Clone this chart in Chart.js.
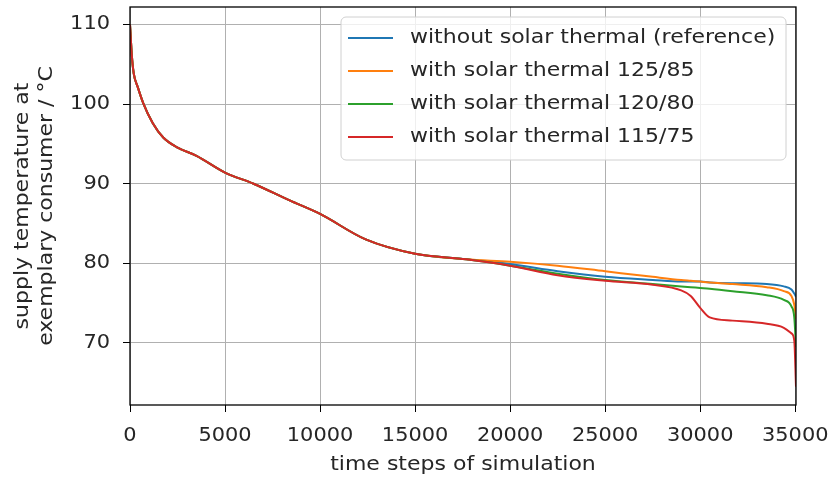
<!DOCTYPE html>
<html>
<head>
<meta charset="utf-8">
<script src="https://cdn.jsdelivr.net/npm/chart.js@4"></script>
<style>
  html, body { margin: 0; padding: 0; background: #ffffff; }
  #wrap { width: 830px; height: 477px; position: relative; }
</style>
</head>
<body>
<div id="wrap"><canvas id="c" width="830" height="477"></canvas></div>
<script>
// ---- data ----
const seriesLabels = [
  'without solar thermal (reference)',
  'with solar thermal 125/85',
  'with solar thermal 120/80',
  'with solar thermal 115/75'
];
const seriesColors = ['#1f77b4', '#ff7f0e', '#2ca02c', '#d62728'];

const timeSteps = [0, 100, 200, 400, 700, 1200, 1750, 2450, 3500, 5000, 6500, 8400, 10000, 12400, 15000, 17700,
                   20000, 22500, 25000, 27500, 29000, 29500, 30000, 30500, 31700, 33500, 34400, 34800, 34950, 35040];

const commonStart = [110, 106.0, 103.8, 102.2, 100.1, 97.6, 95.8, 94.6, 93.5, 91.4, 90.0, 87.9, 86.2, 83.0, 81.2, 80.5];

const tailReference = [79.9, 79.0, 78.3, 77.9, 77.7, 77.7, 77.7, 77.6, 77.5, 77.4, 77.1, 76.7, 76.2, 75.8];
const tail125_85    = [80.2, 79.7, 79.0, 78.3, 77.9, 77.8, 77.7, 77.6, 77.4, 77.0, 76.5, 75.9, 74.8, 73.0];
const tail120_80    = [79.7, 78.7, 77.9, 77.4, 77.1, 77.0, 76.9, 76.8, 76.5, 76.0, 75.4, 74.6, 73.2, 69.5];
const tail115_75    = [79.7, 78.5, 77.8, 77.3, 76.6, 75.9, 74.4, 73.2, 72.8, 72.4, 71.9, 71.2, 70.3, 64.5];

const xTicks = [0, 5000, 10000, 15000, 20000, 25000, 30000, 35000];
const yTicks = [70, 80, 90, 100, 110];

const xLabel = 'time steps of simulation';
const yLabel = ['supply temperature at', 'exemplary consumer / °C'];

// ---- build datasets ----
const tails = [tailReference, tail125_85, tail120_80, tail115_75];
const datasets = tails.map((tail, i) => {
  const ys = commonStart.concat(tail);
  return {
    label: seriesLabels[i],
    data: timeSteps.map((x, k) => ({ x: x, y: ys[k] })),
    borderColor: seriesColors[i],
    backgroundColor: seriesColors[i],
    borderWidth: 2,
    pointRadius: 0,
    fill: false,
    order: tails.length - 1 - i,
    cubicInterpolationMode: 'monotone'
  };
});

const FONT = "'DejaVu Sans', sans-serif";
const TEXT_STRETCH = 1.1;

// text in the reference is slightly wider than plain DejaVu Sans: stretch along the text direction
const canvas = document.getElementById('c');
const ctx0 = canvas.getContext('2d');
const origFill = ctx0.fillText.bind(ctx0);
const origMeasure = ctx0.measureText.bind(ctx0);
ctx0.fillText = function (text, x, y, maxWidth) {
  this.save();
  this.translate(x, y);
  this.scale(TEXT_STRETCH, 1);
  origFill(text, 0, 0);
  this.restore();
};
ctx0.measureText = function (text) {
  const m = origMeasure(text);
  return {
    width: m.width * TEXT_STRETCH,
    actualBoundingBoxAscent: m.actualBoundingBoxAscent,
    actualBoundingBoxDescent: m.actualBoundingBoxDescent,
    actualBoundingBoxLeft: m.actualBoundingBoxLeft * TEXT_STRETCH,
    actualBoundingBoxRight: m.actualBoundingBoxRight * TEXT_STRETCH
  };
};

const framePlugin = {
  id: 'frame',
  afterDatasetsDraw(chart) {
    const ctx = chart.ctx;
    const a = chart.chartArea;
    // legend box
    const bx = 341, by = 17, bw = 445, bh = 143, r = 5;
    ctx.save();
    ctx.beginPath();
    ctx.moveTo(bx + r, by);
    ctx.arcTo(bx + bw, by, bx + bw, by + bh, r);
    ctx.arcTo(bx + bw, by + bh, bx, by + bh, r);
    ctx.arcTo(bx, by + bh, bx, by, r);
    ctx.arcTo(bx, by, bx + bw, by, r);
    ctx.closePath();
    ctx.fillStyle = 'rgba(255,255,255,0.8)';
    ctx.fill();
    ctx.strokeStyle = '#d0d0d0';
    ctx.lineWidth = 1;
    ctx.stroke();
    ctx.font = '20px ' + FONT;
    ctx.textBaseline = 'middle';
    ctx.textAlign = 'left';
    chart.data.datasets.forEach((ds, i) => {
      const yy = 38 + i * 33;
      ctx.strokeStyle = ds.borderColor;
      ctx.lineWidth = 2;
      ctx.beginPath();
      ctx.moveTo(348, yy);
      ctx.lineTo(393, yy);
      ctx.stroke();
      ctx.fillStyle = '#262626';
      ctx.fillText(ds.label, 410, yy);
    });
    // spines
    ctx.strokeStyle = '#000000';
    ctx.lineWidth = 1.3;
    ctx.strokeRect(a.left, a.top, a.right - a.left, a.bottom - a.top);
    ctx.restore();
  }
};

new Chart(canvas, {
  type: 'line',
  data: { datasets: datasets },
  options: {
    responsive: false,
    animation: false,
    layout: { padding: { left: 0, right: 34, top: 7, bottom: 0 } },
    plugins: { legend: { display: false }, tooltip: { enabled: false } },
    scales: {
      x: {
        type: 'linear',
        min: 0,
        max: 35040,
        afterBuildTicks(s) { s.ticks = xTicks.map(v => ({ value: v })); },
        afterFit(s) { s.height = 72; s.paddingLeft = 0; s.paddingRight = 0; },
        grid: { color: '#b0b0b0', lineWidth: 1, tickColor: '#000000', tickLength: 7, drawTicks: true },
        border: { display: false },
        ticks: { color: '#262626', font: { family: FONT, size: 19 }, padding: 13, maxRotation: 0, autoSkip: false,
                 callback: v => String(v) },
        title: { display: true, text: xLabel, color: '#262626', font: { family: FONT, size: 20 }, padding: { top: 0, bottom: 0 } }
      },
      y: {
        type: 'linear',
        min: 62.2,
        max: 112.2,
        afterBuildTicks(s) { s.ticks = yTicks.map(v => ({ value: v })); },
        afterFit(s) { s.width = 130; s.paddingTop = 0; s.paddingBottom = 0; },
        grid: { color: '#b0b0b0', lineWidth: 1, tickColor: '#000000', tickLength: 7, drawTicks: true },
        border: { display: false },
        ticks: { color: '#262626', font: { family: FONT, size: 19 }, padding: 13, callback: v => String(v) },
        title: { display: true, text: yLabel, color: '#262626', font: { family: FONT, size: 20 }, padding: { top: 11, bottom: 0 } }
      }
    }
  },
  plugins: [framePlugin]
});
</script>
</body>
</html>
